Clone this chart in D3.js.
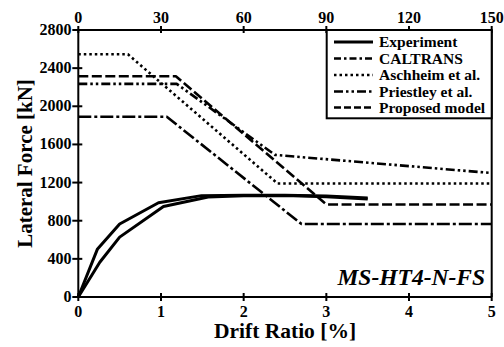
<!DOCTYPE html>
<html><head><meta charset="utf-8">
<script src="https://cdn.jsdelivr.net/npm/d3@7"></script>
<style>body{margin:0;background:#fff}svg{display:block}text{font-family:"Liberation Serif","Times New Roman",serif;font-weight:bold;fill:#000}</style>
</head><body><svg id="c" width="504" height="347"></svg>
<script>
// ---- data ----
const xTicks = [0, 1, 2, 3, 4, 5];
const topTicks = [0, 30, 60, 90, 120, 150];
const yTicks = [0, 400, 800, 1200, 1600, 2000, 2400, 2800];
const experimentA = [[0,0],[0.23,500],[0.5,765],[0.97,988],[1.49,1063],[2.0,1068],[2.5,1068],[3.0,1060],[3.5,1038]];
const experimentB = [[0,0],[0.26,365],[0.5,628],[1.03,950],[1.57,1048],[2.0,1062],[2.5,1064],[3.0,1052],[3.5,1028]];
const caltrans = [[0,1890],[1.07,1890],[2.70,765],[5,765]];
const aschheim = [[0,2545],[0.60,2545],[2.41,1190],[5,1190]];
const priestley = [[0,2235],[1.19,2235],[2.38,1490],[5,1300]];
const proposed = [[0,2315],[1.18,2315],[3.0,970],[5,970]];
const legendLabels = ["Experiment","CALTRANS","Aschheim et al.","Priestley et al.","Proposed model"];

// ---- layout ----
const L = 78.3, R = 491.7, T = 30, B = 297;
const svg = d3.select("#c");
const x = d3.scaleLinear().domain([0,5]).range([L,R]);
const xTop = d3.scaleLinear().domain([0,150]).range([L,R]);
const y = d3.scaleLinear().domain([0,2800]).range([B,T]);

const series = [
  {data:[experimentA, experimentB], dash:null, w:3, ldash:null},
  {data:[caltrans], dash:"13,3,3,3", w:2.6, ldash:"7,3,2.5,3"},
  {data:[aschheim], dash:"2.5,3", w:2.6, ldash:"2.5,3"},
  {data:[priestley], dash:"9,3,2.5,3,2.5,3", w:2.6, ldash:"9,3,2.5,3,2.5,3"},
  {data:[proposed], dash:"10,3.5", w:2.6, ldash:"7,3"}
];

const line = d3.line().x(d=>x(d[0])).y(d=>y(d[1]));
series.forEach(s=>{
  s.data.forEach(dd=>{
    svg.append("path").attr("d", line(dd)).attr("fill","none").attr("stroke","#000")
      .attr("stroke-width", s.w).attr("stroke-dasharray", s.dash).attr("stroke-linejoin","round");
  });
});

// axes frame lines
const ax = svg.append("g").attr("stroke","#000").attr("stroke-width",2);
ax.append("line").attr("x1",L).attr("x2",L).attr("y1",T).attr("y2",B);
ax.append("line").attr("x1",R).attr("x2",R).attr("y1",T).attr("y2",B);
ax.append("line").attr("x1",L).attr("x2",R).attr("y1",T).attr("y2",T);
ax.append("line").attr("x1",L).attr("x2",R).attr("y1",B).attr("y2",B);

// ticks
xTicks.forEach(t=>{
  ax.append("line").attr("x1",x(t)).attr("x2",x(t)).attr("y1",B-4).attr("y2",B+4);
  svg.append("text").attr("x",x(t)).attr("y",317).attr("text-anchor","middle").attr("font-size",16).text(t);
});
topTicks.forEach(t=>{
  ax.append("line").attr("x1",xTop(t)).attr("x2",xTop(t)).attr("y1",T-4).attr("y2",T+3);
  svg.append("text").attr("x",xTop(t)).attr("y",23).attr("text-anchor","middle").attr("font-size",16).text(t);
});
yTicks.forEach(t=>{
  ax.append("line").attr("x1",L-6).attr("x2",L+4).attr("y1",y(t)).attr("y2",y(t));
  svg.append("text").attr("x",71.5).attr("y",y(t)+5).attr("text-anchor","end").attr("font-size",16).text(t);
});

// titles
svg.append("text").attr("x",(L+R)/2).attr("y",338).attr("text-anchor","middle").attr("font-size",21.5).text("Drift Ratio [%]");
svg.append("text").attr("transform",`translate(32,${(T+B)/2}) rotate(-90)`).attr("text-anchor","middle").attr("font-size",21).text("Lateral Force [kN]");
svg.append("text").attr("x",485).attr("y",285).attr("text-anchor","end").attr("font-size",23.5).attr("font-style","italic").text("MS-HT4-N-FS");

// legend
const lg = svg.append("g");
lg.append("rect").attr("x",326.7).attr("y",T).attr("width",R-326.7).attr("height",88.3)
  .attr("fill","#fff").attr("stroke","#000").attr("stroke-width",2);
const rowY = [42, 58.5, 75, 91.5, 107.5];
series.forEach((s,i)=>{
  lg.append("line").attr("x1",334).attr("x2",373).attr("y1",rowY[i]).attr("y2",rowY[i])
    .attr("stroke","#000").attr("stroke-width",s.w).attr("stroke-dasharray",s.ldash);
  lg.append("text").attr("x",379).attr("y",rowY[i]+5).attr("font-size",15.5).text(legendLabels[i]);
});
</script></body></html>
